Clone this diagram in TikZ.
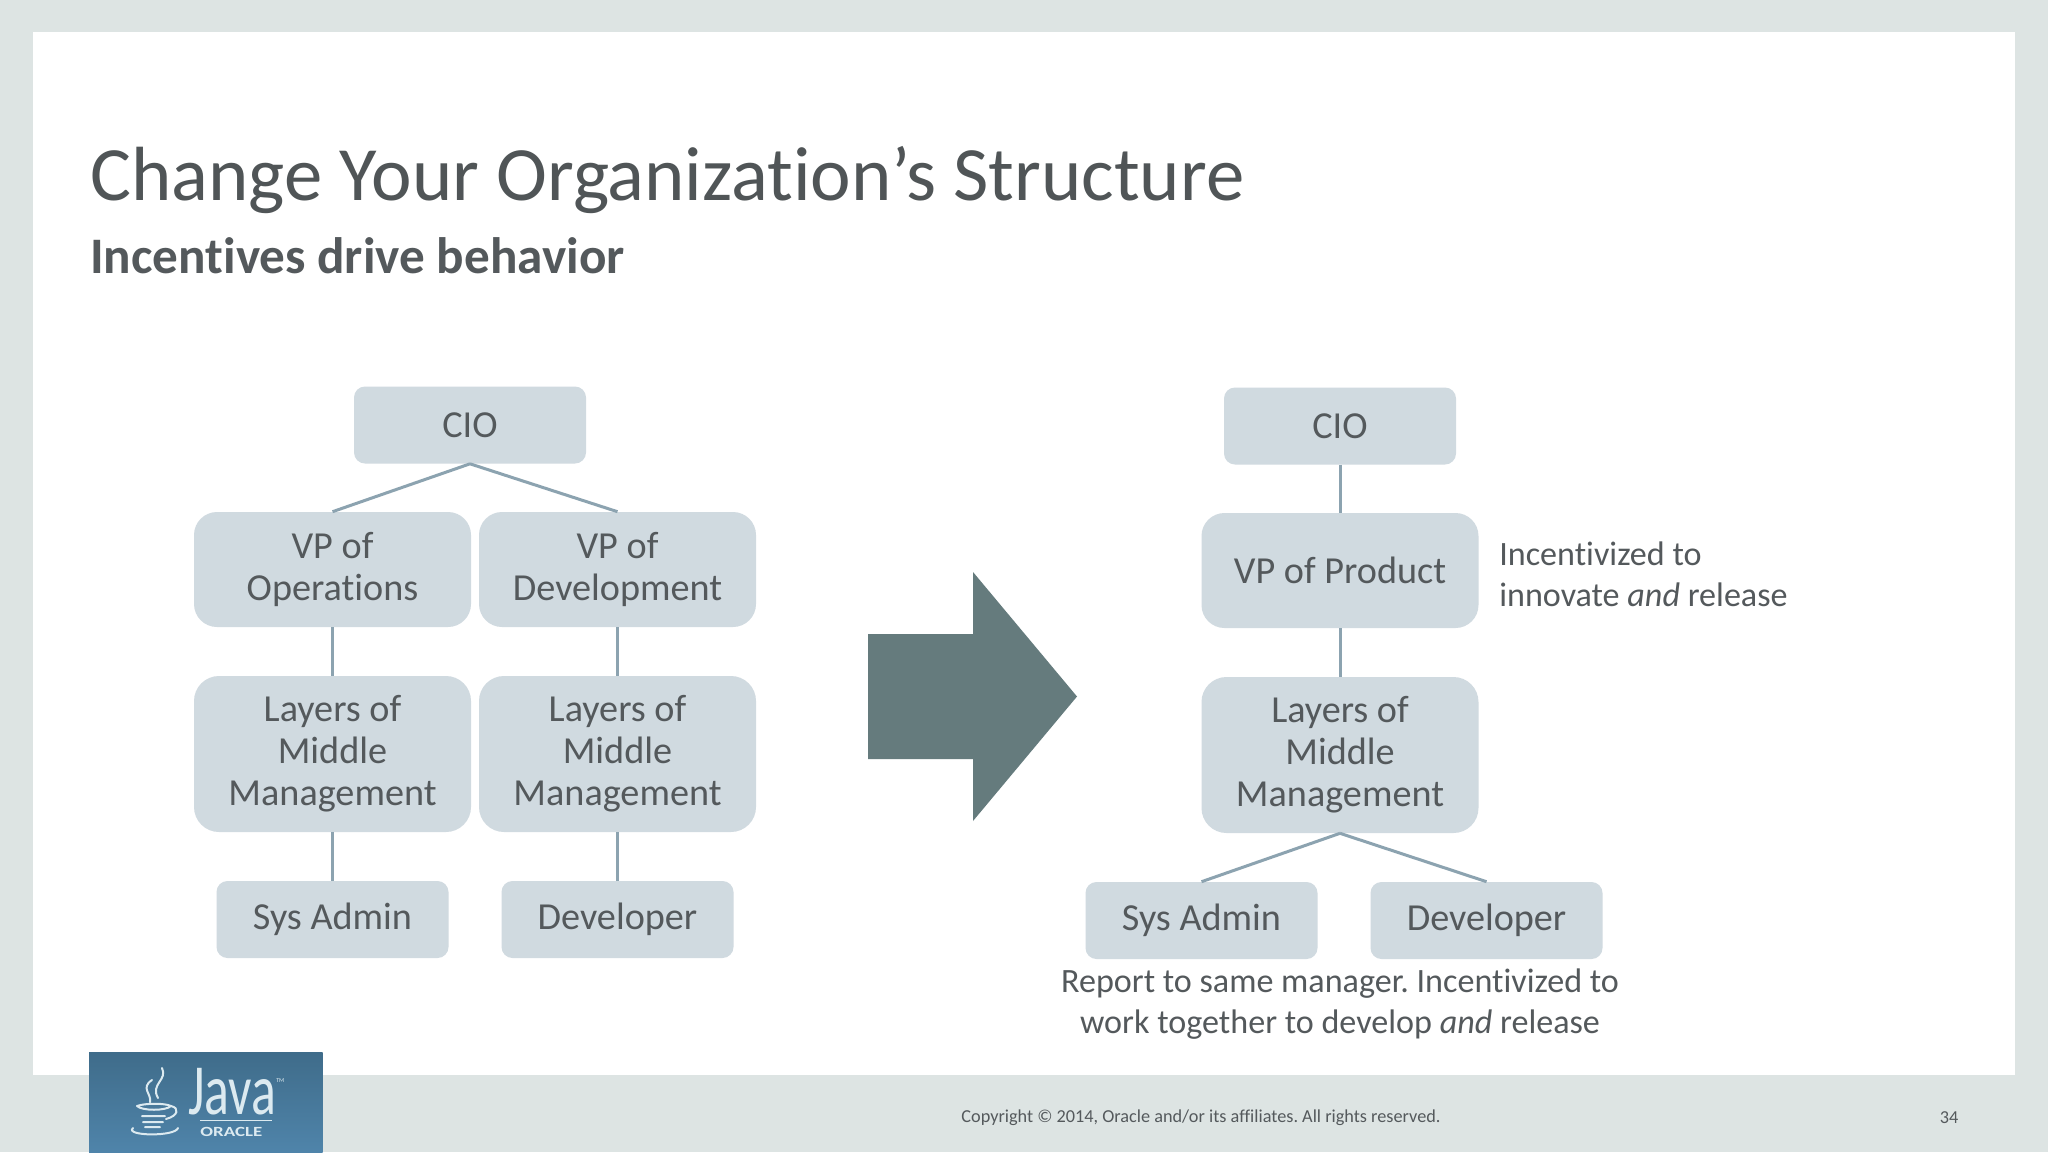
\documentclass[tikz,border=0pt]{standalone}
\usepackage{fontspec}
\setmainfont[Ligatures=NoCommon]{Carlito}
\frenchspacing
\usetikzlibrary{shapes}
\definecolor{slidebg}{HTML}{DDE4E3}
\definecolor{boxfill}{HTML}{D0DAE0}
\definecolor{boxline}{HTML}{8CA3B0}
\definecolor{boxtext}{HTML}{54595C}
\definecolor{arrowfill}{HTML}{657B7D}
\definecolor{logotop}{HTML}{3F6C8A}
\definecolor{logobot}{HTML}{4F84AA}
\definecolor{logoink}{HTML}{DCEAF0}
\tikzstyle{block} = [rectangle, fill=boxfill, text=boxtext, align=center, inner sep=0pt,
    font=\fontsize{38.2}{42}\selectfont]
\tikzstyle{small block} = [block, minimum width=232pt, minimum height=77pt, rounded corners=11pt]
\tikzstyle{mid block} = [block, minimum width=277pt, minimum height=115pt, rounded corners=23pt]
\tikzstyle{tall block} = [block, minimum width=277pt, minimum height=156pt, rounded corners=25pt]
\tikzstyle{note} = [text=boxtext, font=\fontsize{34.1}{41}\selectfont, inner sep=0pt]
\tikzstyle{foot} = [text=boxtext, font=\fontsize{18.25}{20}\selectfont, inner sep=0pt]

\begin{document}
\begin{tikzpicture}[x=1pt,y=-1pt,-,semithick,node distance=285pt]

  \fill[slidebg] (0,0) rectangle (2048,1152);
  \fill[white] (33,32) rectangle (2015,1075);
  \useasboundingbox (0,0) rectangle (2048,1152);

  \node[anchor=base west,inner sep=0pt,text=boxtext!95!black,font=\fontsize{76.8}{80}\selectfont]
       (title) at (90,200) {Change Your Organization’s Structure};
  \node[anchor=base west,inner sep=0pt,text=boxtext,font=\fontsize{51.2}{54}\selectfont\bfseries]
       (subtitle) at (90,273) {Incentives drive behavior};

  \node[small block] (c0) at (470,425)     {CIO};
  \node[mid block]   (v0) at (332.5,569.5) {VP of\\Operations};
  \node[mid block]   (v1) [right of=v0]    {VP of\\Development};
  \node[tall block]  (m0) at (332.5,754)   {Layers of\\Middle\\Management};
  \node[tall block]  (m1) [right of=m0]    {Layers of\\Middle\\Management};
  \node[small block] (s0) at (332.5,919.5) {Sys Admin};
  \node[small block] (d0) [right of=s0]    {Developer};

  \path[draw=boxline,line width=3pt]
        (c0.south) edge (v0.north)
                   edge (v1.north)
        (v0.south) edge (m0.north)
        (v1.south) edge (m1.north)
        (m0.south) edge (s0.north)
        (m1.south) edge (d0.north);

  \node[small block] (c1) at (1340,426)    {CIO};
  \node[mid block]   (v2) at (1340,570.5)  {VP of Product};
  \node[tall block]  (m2) at (1340,755)    {Layers of\\Middle\\Management};
  \node[small block] (s1) at (1201.5,920.5) {Sys Admin};
  \node[small block] (d1) [right of=s1]    {Developer};

  \path[draw=boxline,line width=3pt]
        (c1.south) edge (v2.north)
        (v2.south) edge (m2.north)
        (m2.south) edge (s1.north)
                   edge (d1.north);

  \node[note,align=left,anchor=west] (n0) at (1499,574) {Incentivized to\\innovate \textit{and} release};
  \node[note,align=center] (n1) at (1340,1004) {Report to same manager. Incentivized to\\work together to develop \textit{and} release};

  \fill[arrowfill] (868,634) -- (973,634) -- (973,572) -- (1077,696.5)
        -- (973,821) -- (973,759) -- (868,759) -- cycle;

  \shade[top color=logotop,bottom color=logobot] (89,1052) rectangle (322.5,1152);
  \draw[logoink,line width=2pt,line cap=round]
        (162,1068) .. controls (168,1080) and (150,1084) .. (158,1098)
        (152,1080) .. controls (140,1088) and (152,1094) .. (150,1102)
        (137,1106) .. controls (145,1103) and (165,1103) .. (171,1106)
        (171,1106) .. controls (180,1108) and (178,1116) .. (166,1119)
        (137,1106) .. controls (142,1111) and (166,1111) .. (171,1106)
        (142,1116) -- (165,1116)
        (143,1122) -- (163,1122)
        (145,1127) -- (160,1127)
        (133,1128) .. controls (124,1136) and (175,1137) .. (178,1128);
  \node[anchor=base west,inner sep=0pt,text=logoink,xscale=0.72,text depth=0pt,font=\fontsize{72}{74}\selectfont] (java) at (188,1114) {Java};
  \node[anchor=base west,inner sep=0pt,text=logoink,font=\fontsize{6}{7}\selectfont] (tm) at (276,1082) {TM};
  \draw[logoink,line width=0.7pt] (200,1120) -- (272,1120);
  \node[anchor=base west,inner sep=0pt,text=logoink,xscale=1.35,font=\fontsize{14}{15}\selectfont\bfseries] (oracle) at (200,1136) {ORACLE};

  \node[foot] (copy) at (1201,1118) {Copyright © 2014, Oracle and/or its affiliates. All rights reserved.};
  \node[foot] (page) at (1949,1118) {34};
\end{tikzpicture}
\end{document}
